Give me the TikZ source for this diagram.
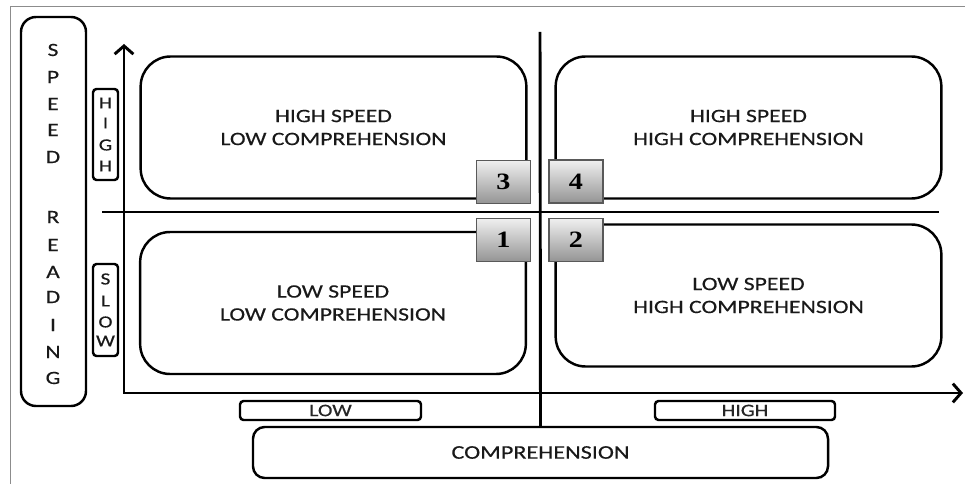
\documentclass[tikz,border=0pt]{standalone}
\usepackage{fontspec}
\setmainfont{Carlito}[FakeStretch=1.25,FakeBold=0.4]
\newfontfamily\numfont{Liberation Serif}[FakeStretch=1.2]
\usetikzlibrary{arrows.meta,shadings}

\begin{document}
\begin{tikzpicture}[x=0.03cm,y=-0.03cm,
    line width=2.1pt,
    quad/.style={draw,rounded corners=0.9cm,inner sep=0pt,align=center,
        minimum width=11.57cm,minimum height=4.26cm,
        font=\fontsize{16.2}{19.6}\selectfont,text=black!90},
    numbox/.style={draw=black!65,line width=1pt,top color=black!6,bottom color=black!42,
        minimum width=1.62cm,minimum height=1.29cm,inner sep=0pt,
        font=\numfont\bfseries\fontsize{20}{20}\selectfont},
    tag/.style={draw,rounded corners=3pt,inner sep=0pt,minimum height=0.57cm,
        font=\fontsize{15}{15}\selectfont,text=black!85},
    letter/.style={inner sep=0pt,font=\fontsize{16}{16}\selectfont,text=black!90},
    small/.style={inner sep=0pt,font=\fontsize{14.5}{14.5}\selectfont,text=black!90},
    axis/.style={line width=2.5pt}]
    \useasboundingbox (0,0) rectangle (965,484);
    % frame of the figure
    \draw[black!45,line width=0.8pt] (10,484) -- (10,6) -- (965,6);

    % axes
    \coordinate (O) at (124,393);
    \coordinate (ytop) at (124,44);
    \coordinate (xend) at (963,393);
    \coordinate (hl) at (102,212);
    \coordinate (hr) at (939,212);
    \coordinate (vt) at (540,32);

    % quadrants
    \node[quad] (q3) at (333.5,127.5) {HIGH SPEED\\LOW COMPREHENSION};
    \node[quad] (q4) at (748.5,127.5) {HIGH SPEED\\HIGH COMPREHENSION};
    \node[quad] (q1) at (333,303) {LOW SPEED\\LOW COMPREHENSION};
    \node[quad] (q2) at (748.5,295.5) {LOW SPEED\\HIGH COMPREHENSION};

    \node[numbox] (n3) at (503.5,182) {3};
    \node[numbox] (n4) at (576,181.5) {4};
    \node[numbox] (n1) at (503.5,240) {1};
    \node[numbox] (n2) at (576,240) {2};

    % speed reading label
    \node[draw,rounded corners=0.45cm,minimum width=1.95cm,minimum height=11.67cm] (speed) at (53.5,211.5) {};
    \foreach \ch/\yy [count=\i] in {S/50,P/77,E/104,E/130,D/157,R/217,E/245,A/272,D/297,I/325,N/352,G/378}
        \node[letter] (sp\i) at (53,\yy) {\ch};

    \node[tag,minimum width=0.75cm,minimum height=2.73cm] (high) at (105.5,134.5) {};
    \foreach \ch/\yy [count=\i] in {H/103,I/123,G/145,H/166}
        \node[small] (hi\i) at (105.5,\yy) {\ch};
    \node[tag,minimum width=0.75cm,minimum height=2.76cm] (slow) at (105.5,310) {};
    \foreach \ch/\yy [count=\i] in {S/279,L/301,O/322,W/341}
        \node[small] (sl\i) at (105.5,\yy) {\ch};

    % comprehension label
    \node[tag,minimum width=5.43cm] (low) at (330.5,410.5) {LOW};
    \node[tag,minimum width=5.4cm] (hig) at (745,410.5) {HIGH};
    \node[draw,rounded corners=0.35cm,minimum width=17.25cm,minimum height=1.53cm,
        font=\fontsize{16.5}{16.5}\selectfont,text=black!90] (comp) at (540.5,452.5) {COMPREHENSION};

    \draw[axis,{Straight Barb[length=7pt,width=16pt]}-{Straight Barb[length=7pt,width=16pt]}] (xend) -- (O) -- (ytop);
    \draw[axis] (hl) -- (hr);
    \draw[axis] (vt) -- (comp.north);
\end{tikzpicture}
\end{document}
